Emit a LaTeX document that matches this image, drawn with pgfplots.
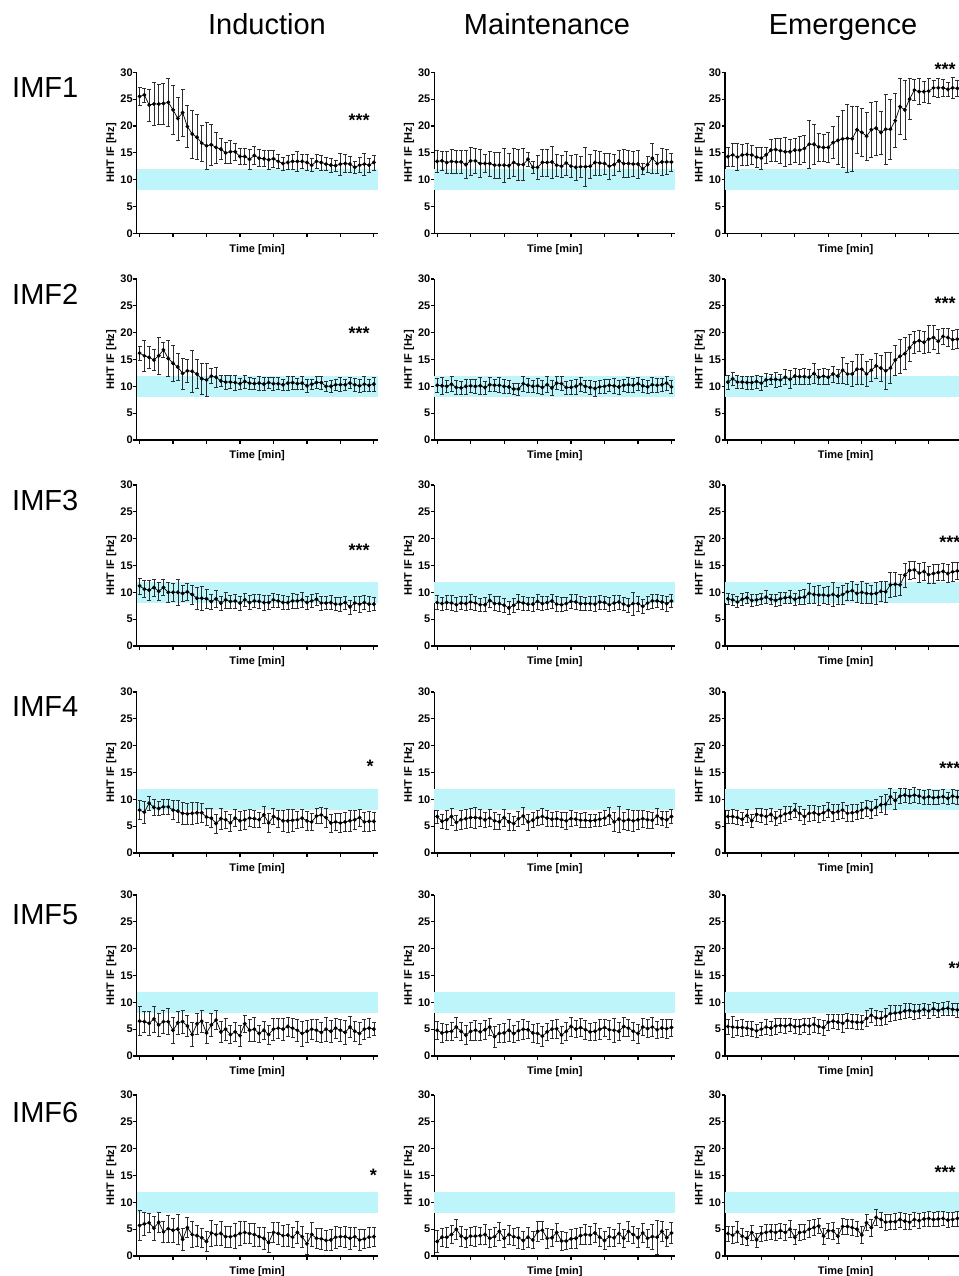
\documentclass[border=0pt]{standalone}
\usepackage{fontspec}
\setmainfont{Liberation Sans}
\usepackage{pgfplots}
\usepackage{pgfplotstable}
\pgfplotsset{compat=1.18}
\definecolor{band}{RGB}{190,245,250}
\definecolor{barc}{RGB}{45,45,45}

% IMF1
\pgfplotstableread{
t Im Ie Mm Me Em Ee
0 25.5 1.7 13.4 2.0 14.3 1.8
1 25.8 1.3 13.5 1.7 14.6 2.2
2 23.9 3.0 13.2 2.0 14.2 2.5
3 24.1 4.0 13.4 2.3 14.6 2.0
4 24.1 3.7 13.3 2.2 14.7 2.0
5 24.2 3.8 13.3 2.2 14.6 1.8
6 24.4 4.5 12.8 2.6 14.2 1.9
7 23.0 4.5 13.5 2.6 14.0 2.0
8 21.4 4.0 13.5 2.4 14.6 1.5
9 22.5 4.4 13.0 2.6 15.5 2.0
10 19.9 3.9 13.0 1.7 15.6 2.1
11 18.5 4.5 13.0 2.3 15.4 2.3
12 17.9 4.2 12.7 2.4 15.2 2.7
13 16.8 3.3 12.7 2.4 15.2 2.3
14 16.3 4.3 12.7 3.2 15.5 2.2
15 16.5 3.9 12.6 2.3 15.5 2.6
16 16.0 2.9 13.2 2.6 15.8 2.5
17 15.7 2.0 12.8 2.9 16.6 4.4
18 15.0 1.9 12.8 3.0 16.6 3.8
19 15.2 2.2 13.8 1.3 16.1 2.6
20 15.2 1.6 12.3 1.2 16.0 2.5
21 14.3 1.5 12.3 2.2 16.0 2.8
22 14.3 1.5 13.2 2.5 16.9 3.0
23 13.8 1.9 13.2 2.5 17.3 4.5
24 14.5 1.7 13.3 3.0 17.6 5.3
25 14.0 1.6 12.7 2.0 17.7 6.3
26 13.9 1.5 12.5 2.0 17.6 6.0
27 13.7 1.8 13.1 2.2 19.3 4.3
28 13.9 1.6 12.5 2.0 18.8 4.5
29 13.4 1.3 12.3 2.5 18.1 4.5
30 13.0 1.2 12.4 2.0 19.3 5.2
31 13.2 1.3 12.4 3.6 19.6 5.0
32 13.4 1.4 12.5 2.2 18.8 4.0
33 13.4 1.9 13.2 2.3 19.4 6.5
34 13.4 1.3 13.1 2.2 19.4 5.6
35 13.2 1.5 13.0 2.0 21.0 5.0
36 12.7 1.2 12.5 2.4 23.6 5.2
37 13.4 1.3 12.8 2.0 23.0 5.5
38 13.2 1.4 13.5 2.0 25.0 3.8
39 12.9 1.2 13.0 2.6 26.7 2.0
40 12.7 1.3 13.0 2.5 26.4 2.4
41 12.6 1.0 12.9 2.3 26.4 2.0
42 12.9 2.0 12.9 2.6 26.5 2.3
43 13.0 1.7 12.0 1.0 27.1 1.5
44 12.9 1.5 12.8 1.5 27.1 1.8
45 12.3 1.1 14.0 2.8 27.1 1.6
46 12.7 1.4 13.0 1.8 26.8 1.3
47 12.9 2.0 13.3 2.5 27.1 2.0
48 12.7 1.3 13.3 2.3 27.0 1.5
49 13.2 1.4 13.3 1.7 26.8 4.2
}\imfA

% IMF2
\pgfplotstableread{
t Im Ie Mm Me Em Ee
0 16.2 1.3 10.2 1.3 10.8 1.3
1 15.7 2.9 10.1 1.5 11.4 1.2
2 15.4 2.0 10.0 1.2 10.8 1.2
3 14.9 2.0 10.4 1.4 10.8 1.1
4 15.7 3.5 9.8 1.3 10.7 1.2
5 16.8 1.4 9.7 1.2 10.7 1.2
6 15.2 3.3 10.0 1.4 10.9 1.2
7 14.3 3.4 10.1 1.2 10.6 1.3
8 13.6 2.5 10.0 1.3 11.2 1.2
9 12.4 2.9 10.1 1.5 11.3 1.0
10 12.9 2.1 9.8 1.2 11.3 1.4
11 12.8 3.9 10.3 1.3 11.2 1.1
12 12.3 2.7 10.2 1.1 11.7 1.4
13 11.4 2.9 10.2 1.4 11.3 1.7
14 11.2 3.1 10.0 1.3 11.9 1.5
15 11.9 1.4 9.9 1.2 11.8 1.4
16 11.7 1.8 9.5 1.0 11.8 1.5
17 11.0 1.0 9.5 1.1 11.7 1.4
18 10.8 1.3 10.5 1.4 12.4 1.9
19 10.8 1.2 10.2 1.3 11.7 1.4
20 10.7 1.4 10.0 1.2 11.9 1.5
21 10.5 1.0 10.1 1.4 11.7 1.4
22 10.9 1.2 9.8 1.3 12.3 1.5
23 10.6 1.1 10.3 1.5 11.9 1.3
24 10.5 1.0 9.7 1.4 13.0 2.5
25 10.6 1.3 10.6 1.2 12.3 1.9
26 10.4 1.2 10.5 1.3 12.3 2.3
27 10.7 1.0 9.8 1.2 13.2 2.8
28 10.5 1.2 9.8 1.3 13.2 2.8
29 10.5 1.1 10.0 1.4 12.3 2.3
30 10.3 1.1 10.4 1.3 13.0 2.0
31 10.6 1.3 10.0 1.2 13.8 2.3
32 10.7 1.2 9.8 1.3 13.4 2.4
33 10.5 1.0 9.6 1.4 12.9 3.5
34 10.6 1.2 9.9 1.2 13.4 2.9
35 10.1 1.3 10.0 1.3 14.9 2.8
36 10.4 1.0 10.2 1.2 15.6 3.2
37 10.7 1.1 10.1 1.4 16.1 3.0
38 10.7 1.2 9.9 1.3 17.2 2.5
39 10.0 1.0 10.2 1.2 18.2 2.0
40 10.0 1.2 10.3 1.4 18.5 2.0
41 10.3 1.1 10.2 1.3 18.2 2.0
42 10.3 1.3 10.5 1.2 18.8 2.5
43 10.3 1.1 10.1 1.3 19.1 2.2
44 10.6 1.0 9.9 1.2 18.4 2.2
45 10.3 1.2 10.3 1.4 19.3 1.5
46 10.1 1.3 10.2 1.3 19.1 1.7
47 10.4 1.4 10.3 1.2 18.7 1.8
48 10.2 1.2 10.6 1.3 18.8 1.8
49 10.4 1.3 9.9 1.2 19.0 2.0
}\imfB

% IMF3
\pgfplotstableread{
t Im Ie Mm Me Em Ee
0 11.2 1.5 8.1 1.3 8.8 1.0
1 10.6 1.6 7.9 1.2 8.6 1.1
2 10.4 1.8 8.1 1.3 8.2 1.0
3 10.9 1.6 8.0 1.4 8.7 1.2
4 10.2 1.6 7.7 1.3 9.0 1.0
5 10.9 1.5 8.0 1.2 8.5 1.1
6 10.0 1.8 7.9 1.3 8.6 1.0
7 10.0 1.6 8.2 1.4 8.8 1.1
8 10.0 2.4 8.0 1.3 9.1 1.2
9 9.8 1.5 7.7 1.2 8.7 1.0
10 10.1 1.6 7.7 1.3 8.5 1.1
11 9.6 1.8 8.5 1.2 8.8 1.2
12 8.9 2.0 7.9 1.3 9.0 1.0
13 8.9 2.2 7.9 1.4 9.1 1.2
14 8.8 1.7 7.6 1.3 8.7 1.1
15 8.3 1.4 7.1 1.2 9.0 1.3
16 8.8 1.5 7.6 1.3 9.1 1.4
17 8.0 1.3 8.2 1.4 9.8 1.8
18 8.6 1.5 8.0 1.3 9.6 1.6
19 8.3 1.2 7.8 1.2 9.5 1.9
20 8.4 1.3 7.8 1.3 9.5 1.5
21 8.0 1.3 8.3 1.4 9.4 1.7
22 8.6 1.2 7.9 1.3 9.6 2.2
23 8.1 1.3 8.1 1.2 9.3 1.6
24 8.4 1.2 8.4 1.3 9.6 1.8
25 8.3 1.3 7.8 1.4 10.1 1.6
26 8.1 1.4 7.7 1.3 10.3 1.8
27 8.1 1.3 7.9 1.2 9.8 1.7
28 8.6 1.3 8.3 1.3 10.0 2.0
29 8.4 1.2 8.2 1.4 9.8 1.8
30 8.1 1.3 7.9 1.3 9.7 1.7
31 8.1 1.2 7.9 1.2 9.8 2.0
32 8.4 1.4 7.9 1.3 10.2 1.8
33 8.4 1.3 7.8 1.4 10.1 1.9
34 8.6 1.4 8.2 1.3 11.4 2.3
35 8.1 1.2 8.1 1.2 11.5 2.2
36 8.4 1.2 7.7 1.3 11.4 2.0
37 8.7 1.2 8.0 1.4 13.2 2.2
38 8.0 1.3 8.2 1.3 14.1 1.6
39 8.0 1.2 7.8 1.2 14.2 1.5
40 8.1 1.3 7.5 1.3 13.6 1.8
41 7.8 1.2 7.9 2.2 13.9 1.7
42 7.8 1.3 7.9 1.4 13.3 1.6
43 8.1 1.2 7.4 1.3 13.5 1.8
44 7.3 1.3 8.0 1.2 13.7 1.5
45 8.0 1.3 8.4 1.3 13.9 1.6
46 7.8 1.5 8.4 1.2 13.5 1.7
47 8.1 1.3 8.2 1.3 13.8 1.8
48 7.8 1.4 7.9 1.4 14.0 1.6
49 7.8 1.2 8.4 1.2 13.7 1.5
}\imfC

% IMF4
\pgfplotstableread{
t Im Ie Mm Me Em Ee
0 8.0 1.8 6.8 1.2 6.8 1.2
1 7.6 2.0 5.9 1.3 6.8 1.3
2 9.3 1.3 6.2 1.7 6.6 1.3
3 8.5 1.5 6.8 1.6 6.3 1.2
4 8.3 1.3 5.7 1.4 7.0 1.2
5 8.6 1.4 6.2 1.8 6.0 1.3
6 8.6 1.4 6.4 1.8 7.2 1.2
7 8.0 1.8 6.6 1.8 7.0 1.3
8 7.8 2.0 6.6 2.0 6.8 1.4
9 7.4 2.0 6.5 1.6 7.2 1.2
10 7.3 2.0 6.2 1.4 6.5 1.3
11 7.4 2.0 6.5 1.6 6.9 1.3
12 7.5 1.9 6.0 1.5 7.3 1.4
13 7.5 1.8 5.8 1.4 7.5 1.2
14 6.7 1.6 6.6 1.6 8.0 1.3
15 6.5 1.8 5.8 1.6 7.4 1.3
16 5.5 1.8 5.5 1.3 6.8 1.4
17 6.4 2.0 6.4 1.4 7.4 1.5
18 6.2 1.6 6.9 1.6 7.5 1.4
19 5.6 1.6 5.8 1.5 7.2 1.5
20 6.5 1.6 6.1 1.4 7.5 1.4
21 6.0 1.7 6.6 1.4 8.0 1.4
22 6.2 1.8 6.8 1.5 7.5 1.5
23 6.5 1.6 6.5 1.5 7.7 1.4
24 6.4 1.6 6.3 1.3 8.0 1.5
25 6.2 1.4 6.4 1.4 7.4 1.4
26 7.1 1.6 6.2 1.4 7.5 1.5
27 5.6 1.8 6.0 1.6 7.7 1.4
28 6.8 1.5 6.4 1.5 8.0 1.5
29 6.4 1.6 6.3 1.2 8.4 1.5
30 6.0 2.0 6.1 1.3 8.0 1.6
31 6.0 2.1 6.1 1.4 8.5 1.5
32 6.1 2.0 6.0 1.3 9.0 1.5
33 6.2 1.6 6.1 1.2 9.1 1.8
34 6.5 1.7 6.3 1.3 10.5 1.5
35 6.0 1.7 6.5 1.4 9.8 1.6
36 5.8 1.6 7.0 1.6 10.6 1.4
37 6.9 1.4 5.8 1.7 10.8 1.3
38 7.1 1.5 6.3 2.4 10.6 1.3
39 6.6 1.8 6.0 1.5 10.8 1.4
40 5.6 1.7 6.2 1.9 10.6 1.3
41 5.8 1.6 6.0 2.0 10.3 1.3
42 5.6 1.8 6.2 1.8 10.5 1.4
43 5.8 1.8 6.4 1.6 10.3 1.3
44 6.0 2.0 6.2 1.6 10.4 1.3
45 6.2 1.8 6.1 1.5 10.5 1.3
46 6.6 1.6 6.9 1.5 10.2 1.2
47 5.8 1.8 6.4 1.3 10.6 1.3
48 5.9 1.8 6.2 1.5 10.4 1.3
49 5.9 1.6 6.8 1.3 10.3 1.2
}\imfD

% IMF5
\pgfplotstableread{
t Im Ie Mm Me Em Ee
0 6.5 2.7 4.8 1.6 5.5 1.4
1 6.4 2.0 4.3 1.8 5.4 2.0
2 6.1 2.3 4.5 1.5 5.3 1.4
3 6.9 2.4 4.6 1.7 5.3 1.6
4 5.8 2.1 5.4 1.9 5.2 1.3
5 6.4 2.2 4.6 1.6 5.0 1.4
6 6.4 2.4 3.9 1.8 4.7 1.3
7 4.8 2.5 4.6 1.7 5.0 1.2
8 6.2 2.1 4.8 1.9 5.4 1.4
9 6.4 2.1 4.5 1.6 5.2 1.3
10 5.6 2.0 4.9 1.8 5.6 1.5
11 4.0 2.2 5.4 1.6 5.7 1.3
12 6.0 1.9 3.6 1.9 5.6 1.4
13 6.5 2.0 4.2 1.7 5.8 1.2
14 4.3 2.0 4.3 1.8 5.5 1.3
15 5.8 2.2 4.8 2.0 5.5 1.4
16 6.7 1.8 4.2 1.6 5.8 1.3
17 4.5 1.9 4.7 1.7 5.6 1.5
18 5.0 2.1 5.0 1.8 5.9 1.4
19 4.0 1.7 4.9 1.6 5.5 1.3
20 4.5 1.8 4.3 1.7 5.3 1.4
21 3.8 1.9 4.2 1.9 6.3 1.5
22 6.0 1.6 3.7 1.8 6.5 1.3
23 4.8 2.0 4.5 1.6 6.3 1.4
24 5.0 2.3 5.0 1.7 6.1 1.6
25 4.2 1.6 5.1 1.8 6.6 1.4
26 4.8 1.7 3.9 1.6 6.4 1.3
27 4.0 1.8 4.6 1.7 6.3 1.4
28 5.0 2.0 5.5 1.8 6.3 1.3
29 5.2 1.9 5.0 1.6 7.0 1.5
30 5.0 2.0 5.3 1.7 7.6 1.3
31 5.5 1.8 4.9 1.8 7.1 1.4
32 5.2 1.8 4.5 1.6 7.0 1.3
33 4.8 2.0 4.6 1.7 7.4 1.4
34 4.2 2.3 5.0 1.8 7.9 1.5
35 4.6 2.0 5.3 1.6 8.0 1.4
36 5.0 1.8 4.9 1.7 8.1 1.3
37 4.8 2.0 4.8 2.2 8.4 1.4
38 4.4 1.9 4.6 1.7 8.5 1.3
39 5.0 2.2 5.5 1.8 8.3 1.4
40 4.6 2.0 5.2 1.6 8.4 1.3
41 5.2 1.9 4.6 1.7 8.7 1.2
42 4.8 2.1 4.2 1.8 8.4 1.3
43 4.4 2.3 5.4 1.6 8.8 1.2
44 5.4 2.0 5.1 1.7 8.5 1.3
45 4.6 1.8 5.4 1.8 8.8 1.2
46 4.2 2.0 4.9 1.6 8.9 1.3
47 5.0 1.9 5.2 1.7 8.7 1.2
48 5.2 1.8 5.1 1.8 8.6 1.3
49 5.0 1.2 5.3 1.6 8.5 1.2
}\imfE

% IMF6
\pgfplotstableread{
t Im Ie Mm Me Em Ee
0 5.7 2.8 2.7 2.0 4.2 1.4
1 6.0 2.2 3.5 1.6 3.9 1.6
2 6.2 1.8 3.5 1.8 4.5 2.0
3 5.2 2.2 4.0 1.7 3.7 1.5
4 6.3 1.9 5.0 1.9 3.3 1.3
5 4.5 2.0 3.7 1.8 4.4 1.4
6 5.1 2.5 3.3 1.6 3.0 1.3
7 4.8 2.3 3.7 1.7 4.2 1.4
8 5.0 2.8 3.7 1.8 4.4 1.5
9 3.1 2.0 3.8 1.6 4.6 1.4
10 5.3 1.9 4.0 1.9 4.4 1.5
11 4.0 2.4 3.3 1.7 4.7 1.4
12 3.8 2.0 3.6 1.8 4.4 1.5
13 3.4 1.8 4.6 1.6 5.0 1.6
14 2.7 1.9 3.3 1.7 3.5 1.4
15 4.3 2.4 4.0 1.8 4.4 1.5
16 4.0 2.0 3.6 1.6 4.5 1.4
17 4.2 2.2 3.4 1.9 5.0 1.6
18 3.6 1.9 2.9 1.7 5.3 1.5
19 3.6 2.0 3.5 1.8 5.6 1.4
20 3.8 2.3 3.0 1.6 3.7 1.5
21 4.2 2.2 4.6 1.9 4.7 1.4
22 4.4 2.0 4.8 1.7 4.7 1.5
23 4.2 1.9 3.3 1.8 3.7 1.4
24 4.0 2.1 3.4 1.6 5.5 1.5
25 3.6 1.8 4.4 1.7 5.5 1.4
26 3.3 2.0 2.8 1.8 5.3 1.5
27 2.5 1.9 2.8 1.6 5.0 1.4
28 4.4 1.8 3.2 1.7 3.9 1.6
29 4.2 2.0 3.3 1.8 6.2 1.5
30 3.8 1.9 3.8 1.6 5.3 1.6
31 3.9 2.1 4.0 1.9 7.2 1.5
32 3.5 1.8 3.9 1.7 6.8 1.4
33 4.4 2.0 4.3 1.8 6.3 1.5
34 3.6 1.9 3.5 1.6 6.4 1.4
35 2.3 2.0 2.9 1.7 6.4 1.5
36 4.0 2.2 3.6 1.8 6.8 1.4
37 3.3 1.9 3.4 1.6 6.5 1.5
38 3.2 2.0 4.2 1.9 6.3 1.4
39 2.9 1.8 3.3 1.7 6.8 1.3
40 3.0 1.9 4.6 1.8 6.6 1.4
41 3.5 2.0 4.0 1.6 6.9 1.3
42 3.6 1.8 3.4 1.7 7.0 1.4
43 3.6 1.9 4.3 1.8 6.8 1.3
44 3.3 2.0 3.3 1.6 6.9 1.4
45 3.6 1.8 3.6 2.4 7.0 1.3
46 3.0 1.9 3.5 3.2 6.7 1.4
47 3.2 1.8 4.6 1.8 6.8 1.3
48 3.5 1.9 3.4 1.6 7.0 1.4
49 3.6 1.7 4.3 1.9 6.9 1.3
}\imfF

\pgfplotsset{
  panel/.style={
    width=241pt, height=161pt, scale only axis,
    anchor=south west, clip=false,
    xmin=-0.6, xmax=49.8, ymin=0, ymax=30,
    axis x line*=bottom, axis y line*=left,
    axis line style={line width=1.4pt, black},
    xtick={0,7,14,21,28,35,42,49}, xticklabels={},
    ytick={0,5,10,15,20,25,30}, yticklabels={0,5,10,15,20,25,30},
    tick align=outside, major tick length=3.5pt,
    tick style={line width=1.2pt, black},
    yticklabel style={font=\bfseries\fontsize{11}{11}\selectfont, inner sep=0.3pt},
    xlabel={Time [min]}, ylabel={HHT IF [Hz]},
    label style={font=\bfseries\fontsize{11}{11}\selectfont},
    xlabel style={at={(axis description cs:0.5,-0.1)}, anchor=center},
    ylabel style={at={(axis description cs:-0.105,0.5)}, anchor=center},
  },
  ser/.style={
    black, line width=0.7pt, mark=*, mark size=1.6pt,
    error bars/.cd, y dir=both, y explicit,
    error bar style={line width=0.6pt, color=barc},
    error mark options={rotate=90, line width=0.6pt, mark size=2pt, color=barc},
  },
}

\newcommand{\panel}[8]{%
  \begin{axis}[panel, at={(#1pt,-#2pt)}]
    \addplot[fill=band, draw=none, forget plot] coordinates {(-0.6,8) (49.8,8) (49.8,12) (-0.6,12)} -- cycle;
    \addplot[ser] table[x=t, y=#4, y error=#5] {#3};
    \node[font=\bfseries\fontsize{18}{18}\selectfont, inner sep=0pt, anchor=#8] at (axis cs:#6) {#7};
  \end{axis}}

\begin{document}
\begin{tikzpicture}
\useasboundingbox (0pt,0pt) rectangle (958pt,-1276pt);
\tikzset{ttl/.style={font=\fontsize{29}{29}\selectfont, inner sep=0pt}}
\node[ttl, anchor=base] at (267pt,-35pt) {Induction};
\node[ttl, anchor=base] at (547pt,-35pt) {Maintenance};
\node[ttl, anchor=base] at (843pt,-35pt) {Emergence};
\node[ttl, anchor=base west] at (12pt,-98pt) {IMF1};
\node[ttl, anchor=base west] at (12pt,-304pt) {IMF2};
\node[ttl, anchor=base west] at (12pt,-510pt) {IMF3};
\node[ttl, anchor=base west] at (12pt,-716pt) {IMF4};
\node[ttl, anchor=base west] at (12pt,-924pt) {IMF5};
\node[ttl, anchor=base west] at (12pt,-1122pt) {IMF6};

\panel{136.7}{233.3}{\imfA}{Im}{Ie}{45.9,21.1}{***}{center}
\panel{434.3}{233.3}{\imfA}{Mm}{Me}{45,20}{}{center}
\panel{725}{233.3}{\imfA}{Em}{Ee}{43.2,30.5}{***}{west}

\panel{136.7}{440}{\imfB}{Im}{Ie}{45.9,19.9}{***}{center}
\panel{434.3}{440}{\imfB}{Mm}{Me}{45,20}{}{center}
\panel{725}{440}{\imfB}{Em}{Ee}{43.2,25.5}{***}{west}

\panel{136.7}{646}{\imfC}{Im}{Ie}{45.9,17.9}{***}{center}
\panel{434.3}{646}{\imfC}{Mm}{Me}{45,20}{}{center}
\panel{725}{646}{\imfC}{Em}{Ee}{44.2,19.4}{***}{west}

\panel{136.7}{853}{\imfD}{Im}{Ie}{48.2,16.2}{*}{center}
\panel{434.3}{853}{\imfD}{Mm}{Me}{45,20}{}{center}
\panel{725}{853}{\imfD}{Em}{Ee}{44.2,15.8}{***}{west}

\panel{136.7}{1056}{\imfE}{Im}{Ie}{45,20}{}{center}
\panel{434.3}{1056}{\imfE}{Mm}{Me}{45,20}{}{center}
\panel{725}{1056}{\imfE}{Em}{Ee}{46.1,16.4}{***}{west}

\panel{136.7}{1256}{\imfF}{Im}{Ie}{48.9,15.1}{*}{center}
\panel{434.3}{1256}{\imfF}{Mm}{Me}{45,20}{}{center}
\panel{725}{1256}{\imfF}{Em}{Ee}{43.2,15.6}{***}{west}
\end{tikzpicture}
\end{document}
